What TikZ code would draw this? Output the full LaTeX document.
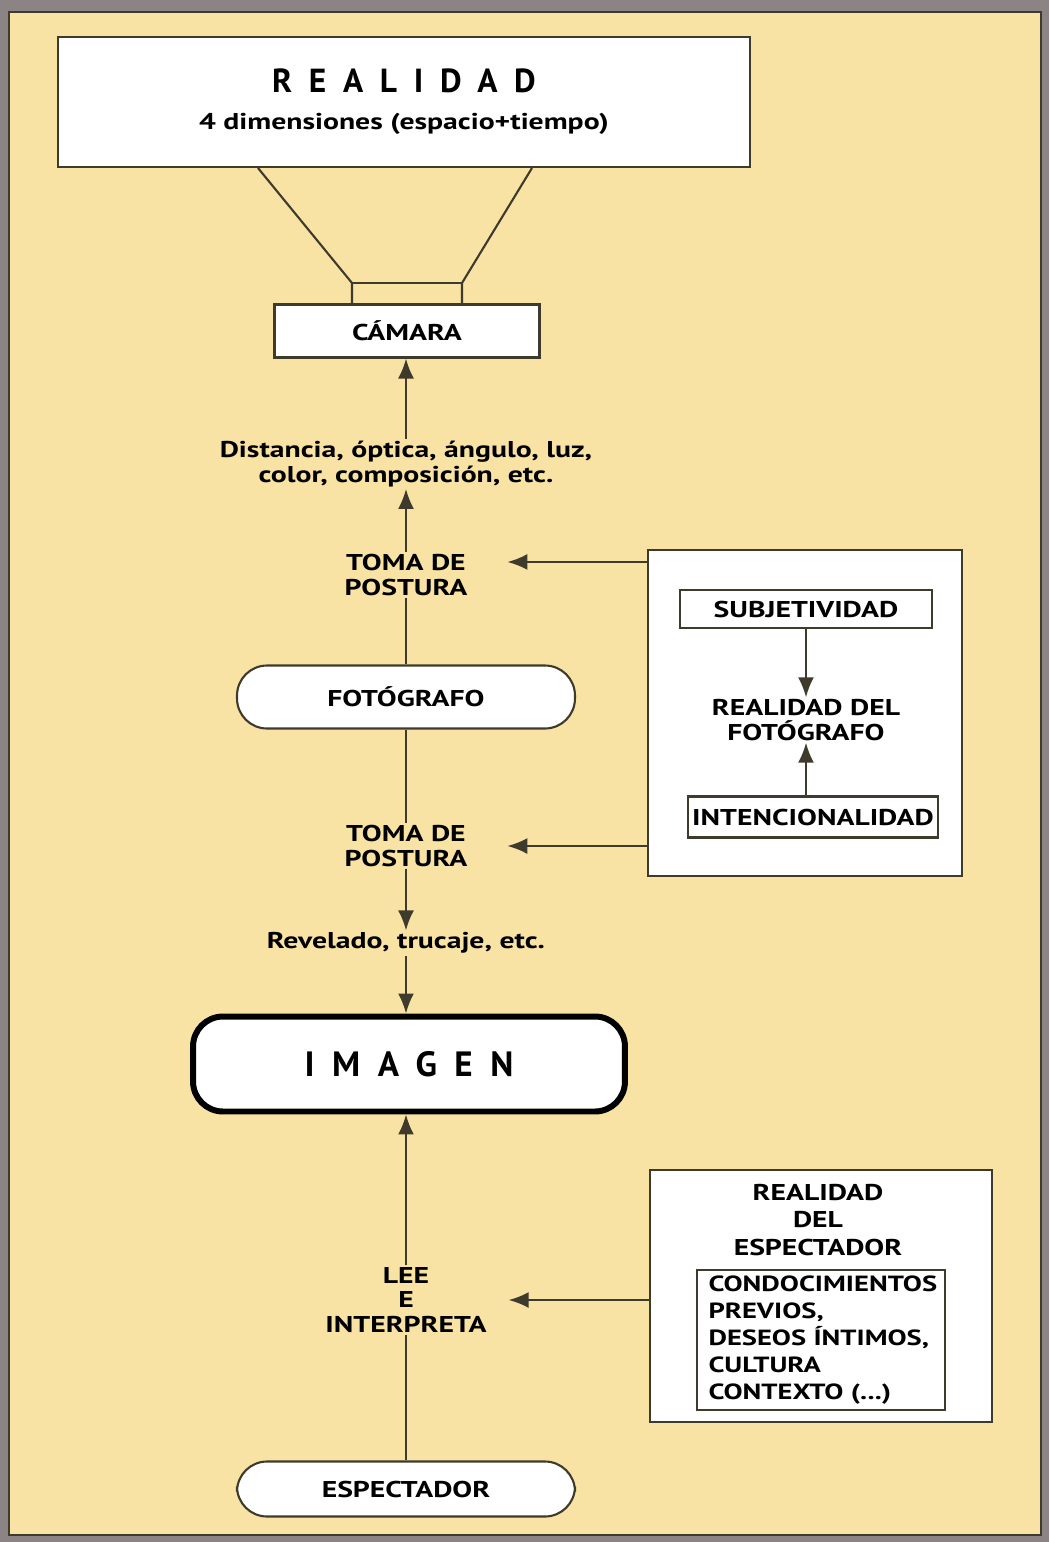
\documentclass[tikz,border=0pt]{standalone}
\usepackage{fontspec}
\setmainfont[FakeStretch=1.3]{PT Sans}
\newfontfamily\espaciada[LetterSpace=50]{PT Sans}
\usepackage{xcolor}
\usetikzlibrary{arrows.meta,positioning}
\definecolor{fondogris}{HTML}{8C8385}
\definecolor{papel}{HTML}{F9E3A4}
\definecolor{trazo}{HTML}{3E3A2C}

\begin{document}
\begin{tikzpicture}[x=0.02cm,y=-0.02cm,>={Latex[length=4mm,width=3.2mm]},
  caja/.style={draw=trazo,line width=1.2pt,fill=white,inner sep=0pt},
  ovalo/.style={caja,rounded corners=0.6cm,minimum width=6.76cm},
  rotulo/.style={font=\bfseries\fontsize{13}{14}\selectfont,align=center,inner sep=1pt},
  linea/.style={trazo,line width=1.2pt},
  flecha/.style={linea,->}]
\fill[fondogris] (0,0) rectangle (1049,1542);
\filldraw[fill=papel,draw=trazo,line width=1.5pt] (9,12) rectangle (1041,1535);
\useasboundingbox (0,0) rectangle (1049,1542);

\node[caja,minimum width=13.84cm,minimum height=2.6cm,align=center] (realidad) at (404,102)
  {{\espaciada\bfseries\fontsize{19}{22}\selectfont REALIDAD}\\[9pt]{\bfseries\fontsize{13}{15}\selectfont 4 dimensiones (espacio+tiempo)}};
\node[caja,rotulo,minimum width=5.3cm,minimum height=1.06cm] (camara) at (407,331) {CÁMARA};
\coordinate (lenteI) at (352,283);
\coordinate (lenteD) at (462,283);
\draw[linea] ([xshift=-2.92cm]realidad.south) -- (lenteI) -- (lenteI |- camara.north);
\draw[linea] ([xshift=2.56cm]realidad.south) -- (lenteD) -- (lenteD |- camara.north);
\draw[linea] (lenteI) -- (lenteD);

\node[rotulo] (distancia) at (406,464) {Distancia, óptica, ángulo, luz,\\color, composición, etc.};
\node[rotulo] (toma1) at (406,575) {TOMA DE\\POSTURA};
\node[caja,ovalo,rotulo,minimum height=1.26cm] (fotografo) at (406,697) {FOTÓGRAFO};
\node[rotulo] (toma2) at (406,846) {TOMA DE\\POSTURA};
\node[rotulo] (revelado) at (406,943) {Revelado, trucaje, etc.};
\node[caja,rotulo,draw=black,line width=3.4pt,rounded corners=0.6cm,minimum width=8.64cm,minimum height=1.9cm] (imagen) at (409,1064)
  {\espaciada\bfseries\fontsize{20}{22}\selectfont IMAGEN};
\node[rotulo] (lee) at (406,1300) {LEE\\E\\INTERPRETA};
\node[caja,ovalo,rotulo,minimum height=1.1cm] (espectador) at (406,1489) {ESPECTADOR};

\node[caja,minimum width=6.28cm,minimum height=6.52cm] (marcoA) at (805,713) {};
\node[caja,rotulo,minimum width=5.04cm,minimum height=0.76cm] (subjetividad) at (806,609) {SUBJETIVIDAD};
\node[rotulo] (realfoto) at (806,720) {REALIDAD DEL\\FOTÓGRAFO};
\node[caja,rotulo,minimum width=5cm,minimum height=0.82cm] (intencion) at (813,817) {INTENCIONALIDAD};

\node[caja,minimum width=6.84cm,minimum height=5.04cm] (marcoB) at (821,1296) {};
\node[rotulo,font=\bfseries\fontsize{13}{15.5}\selectfont] (realesp) at (818,1220) {REALIDAD\\DEL\\ESPECTADOR};
\node[caja,rotulo,font=\bfseries\fontsize{12.5}{15.3}\selectfont,align=left,text width=4.5cm,minimum width=4.96cm,minimum height=2.8cm] (saberes) at (821,1340)
  {CONDOCIMIENTOS\\PREVIOS,\\DESEOS ÍNTIMOS,\\CULTURA\\CONTEXTO (...)};

\draw[flecha] (distancia.north) -- (distancia.north |- camara.south);
\draw[flecha] (toma1) -- (distancia);
\draw[linea] (fotografo) -- (toma1);
\draw[linea] (fotografo) -- (toma2);
\draw[flecha] (toma2) -- (revelado);
\draw[flecha] (revelado.south) -- (revelado.south |- imagen.north);
\draw[flecha] (lee.north) -- (lee.north |- imagen.south);
\draw[linea] (espectador) -- (lee);
\draw[flecha] (subjetividad.south -| realfoto) -- (realfoto);
\draw[flecha] (intencion.north -| realfoto.south) -- (realfoto.south);
\draw[flecha,shorten >=0.76cm] ([yshift=-0.26cm]marcoA.north west) -- ([yshift=-0.26cm]marcoA.north west -| toma1.east);
\draw[flecha,shorten >=0.76cm] (marcoA.west |- toma2) -- (toma2.east);
\draw[flecha,shorten >=0.4cm] (marcoB.west |- lee) -- (lee.east);
\end{tikzpicture}
\end{document}
